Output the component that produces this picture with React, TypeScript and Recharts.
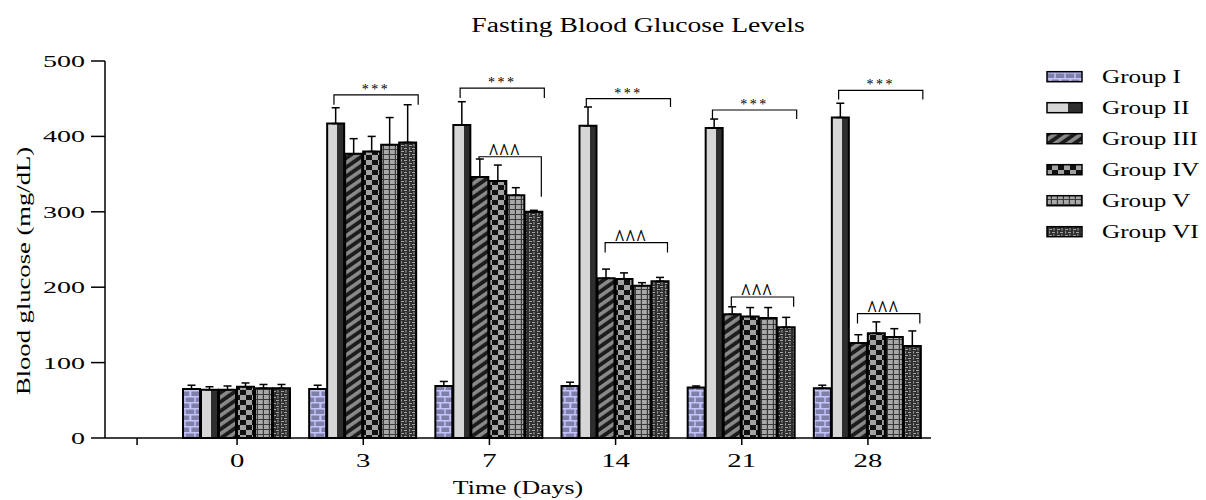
import { BarChart, Bar, XAxis, YAxis, ErrorBar, LabelList, Legend, Customized } from 'recharts'

// categories / series (mg/dL)
const days = ['0', '3', '7', '14', '21', '28']
const groupNames = ['Group I', 'Group II', 'Group III', 'Group IV', 'Group V', 'Group VI']
const yTicks = [0, 100, 200, 300, 400, 500]

const g1 = [65, 65, 69, 69, 67, 66]
const g2 = [64, 417, 415, 414, 411, 425]
const g3 = [64, 377, 346, 212, 164, 126]
const g4 = [68, 380, 341, 211, 161, 139]
const g5 = [66, 389, 322, 202, 159, 134]
const g6 = [66, 392, 300, 208, 147, 122]

// SEM (upper whisker only)
const e1 = [5, 5, 6, 5, 2, 4]
const e2 = [4, 21, 31, 25, 12, 19]
const e3 = [5, 20, 24, 12, 10, 11]
const e4 = [5, 20, 21, 8, 12, 15]
const e5 = [5, 36, 10, 4, 14, 11]
const e6 = [5, 50, 2, 5, 13, 20]

// significance brackets, in mg/dL
const starTop = [null, 455, 464, 450, 435, 461]
const starLeg = [null, 442, 451, 439, 423, 449]
const caretTop = [null, null, 373, 259, 187, 165]
const caretLeftLeg = [null, null, 370, 246, 174, 152]
const caretRightLeg = [null, null, 320, 246, 174, 152]

const series = [g1, g2, g3, g4, g5, g6]
const errors = [e1, e2, e3, e4, e5, e6]
const keys = ['g1', 'g2', 'g3', 'g4', 'g5', 'g6']
const fills = ['url(#pI)', 'url(#gII)', 'url(#pIII)', 'url(#pIV)', 'url(#pV)', 'url(#pVI)']

const rows = days.map((day, i) => {
  const r: any = { day }
  keys.forEach((k, j) => {
    r[k] = series[j][i]
    r['e' + (j + 1)] = [0, errors[j][i]]
  })
  return r
})

const SERIF = '"Liberation Serif", "Times New Roman", serif'
const BAR_GAP = 1

function SText({ x, y, size, sx = 1, anchor = 'start', rotate = 0, dy, weight, children }: any) {
  return (
    <text
      transform={`translate(${x},${y}) rotate(${rotate}) scale(${sx},1)`}
      fontSize={size}
      fontFamily={SERIF}
      fontWeight={weight}
      textAnchor={anchor}
      dy={dy}
      fill="#000"
    >
      {children}
    </text>
  )
}

function Patterns() {
  return (
    <svg width={0} height={0} style={{ position: 'absolute' }}>
      <defs>
        <pattern id="pI" width={10} height={12} patternUnits="userSpaceOnUse">
          <rect width={10} height={12} fill="#7f7fa8" />
          <path d="M0 0.7H10M0 6.7H10M5 0.7V6.7M0.7 6.7V12M10 6.7V12" stroke="#c4c4ff" strokeWidth={1.4} />
        </pattern>
        <linearGradient id="gII" x1="0" y1="0" x2="1" y2="0">
          <stop offset="0" stopColor="#d6d6d6" />
          <stop offset="0.6" stopColor="#d6d6d6" />
          <stop offset="0.6" stopColor="#2e2e2e" />
          <stop offset="1" stopColor="#2e2e2e" />
        </linearGradient>
        <pattern id="pIII" width={8} height={7.5} patternUnits="userSpaceOnUse" patternTransform="rotate(-35)">
          <rect width={8} height={7.5} fill="#1c1c1c" />
          <rect width={8} height={3.6} fill="#8a8a8a" />
        </pattern>
        <pattern id="pIV" width={12} height={10} patternUnits="userSpaceOnUse">
          <rect width={12} height={10} fill="#a2a2a2" />
          <rect width={6} height={5} fill="#111" />
          <rect x={6} y={5} width={6} height={5} fill="#111" />
        </pattern>
        <pattern id="pV" width={6} height={5} patternUnits="userSpaceOnUse">
          <rect width={6} height={5} fill="#a8a8a8" />
          <rect x={4.8} width={1.2} height={5} fill="#3a3a3a" />
          <rect y={4} width={6} height={1} fill="#3a3a3a" />
        </pattern>
        <pattern id="pVI" width={8} height={6} patternUnits="userSpaceOnUse">
          <rect width={8} height={6} fill="#2e2e2e" />
          <rect x={1} y={1} width={3} height={0.9} fill="#b4b4b4" />
          <rect x={5.5} y={0} width={0.9} height={2.6} fill="#b4b4b4" />
          <rect x={4} y={4} width={3} height={0.9} fill="#b4b4b4" />
          <rect x={1.2} y={3.2} width={0.9} height={2.4} fill="#b4b4b4" />
        </pattern>
      </defs>
    </svg>
  )
}

function geom(props: any) {
  const vb = props.viewBox || props
  return { x: vb.x, y: vb.y, w: vb.width, h: vb.height }
}

function StarBracket(props: any) {
  const i = props.index
  const top = starTop[i]
  if (top == null) return null
  const { x, y, w, h } = geom(props)
  const ppu = h / props.value
  const base = y + h
  const yt = base - top * ppu
  const yl = base - (starLeg[i] as number) * ppu
  const x1 = x + w * 0.4
  const x2 = x + 4 * (w + BAR_GAP) + w + 2
  return (
    <g>
      <path d={`M${x1} ${yl}V${yt}H${x2}V${yl}`} fill="none" stroke="#000" strokeWidth={1.2} />
      <text x={(x1 + x2) / 2} y={yt - 1} fontSize={14} fontFamily={SERIF} textAnchor="middle" letterSpacing={2.5}>***</text>
    </g>
  )
}

function CaretBracket(props: any) {
  const i = props.index
  const top = caretTop[i]
  if (top == null) return null
  const { x, y, w, h } = geom(props)
  const ppu = h / props.value
  const base = y + h
  const yt = base - top * ppu
  const yl = base - (caretLeftLeg[i] as number) * ppu
  const yr = base - (caretRightLeg[i] as number) * ppu
  const x1 = x + w * 0.45
  const x2 = x + 3 * (w + BAR_GAP) + w - 1
  return (
    <g>
      <path d={`M${x1} ${yl}V${yt}H${x2}V${yr}`} fill="none" stroke="#000" strokeWidth={1.2} />
      <SText x={(x1 + x2) / 2 - 6} y={yt + 2} size={23} sx={0.8} weight="bold" anchor="middle">^^^</SText>
    </g>
  )
}

function XTick(p: any) {
  const { x, y, payload, index } = p
  return (
    <g>
      <SText x={x} y={y + 14} size={18} sx={1.6} anchor="middle">{payload.value}</SText>
      {index === 0 && <line x1={x - 100} x2={x - 100} y1={y - 15} y2={y - 8} stroke="#000" strokeWidth={1.5} />}
    </g>
  )
}

function YTick(p: any) {
  return <SText x={p.x} y={p.y} dy="0.35em" size={17} sx={1.65} anchor="end">{p.payload.value}</SText>
}

function LegendBox(props: any) {
  const payload = props.payload && props.payload.length ? props.payload : groupNames.map(n => ({ value: n }))
  return (
    <svg width={166} height={200}>
      {payload.map((entry: any, i: number) => {
        const idx = groupNames.indexOf(entry.value)
        const cy = 16.7 + i * 31
        return (
          <g key={entry.value}>
            <rect x={7} y={cy - 5} width={35} height={10} fill={fills[idx]} stroke="#000" strokeWidth={1.5} />
            <SText x={62} y={cy} dy="0.33em" size={18} sx={1.4}>{entry.value}</SText>
          </g>
        )
      })}
    </svg>
  )
}

function Titles() {
  return (
    <g>
      <SText x={638} y={32} size={20} sx={1.38} anchor="middle">Fasting Blood Glucose Levels</SText>
      <SText x={518} y={494} size={19} sx={1.36} anchor="middle">Time (Days)</SText>
      <SText x={30} y={271} size={19} sx={1.4} rotate={-90} anchor="middle">Blood glucose (mg/dL)</SText>
    </g>
  )
}

export default function App() {
  return (
    <div style={{ position: 'absolute', left: 0, top: 0, width: 1206, height: 500, background: '#fff' }}>
      <Patterns />
      <BarChart
        width={1206}
        height={500}
        data={rows}
        margin={{ top: 61, right: 275, bottom: 22, left: 25 }}
        barCategoryGap={9}
        barGap={BAR_GAP}
      >
        <XAxis
          dataKey="day"
          height={40}
          padding={{ left: 69, right: 0 }}
          tickSize={7}
          tickMargin={8}
          interval={0}
          axisLine={{ stroke: '#000', strokeWidth: 1.5 }}
          tickLine={{ stroke: '#000', strokeWidth: 1.5 }}
          tick={XTick}
        />
        <YAxis
          width={80}
          domain={[0, 500]}
          ticks={yTicks}
          interval={0}
          tickSize={14}
          tickMargin={6}
          axisLine={{ stroke: '#000', strokeWidth: 1.5 }}
          tickLine={{ stroke: '#000', strokeWidth: 1.5 }}
          tick={YTick}
        />
        {keys.map((k, j) => (
          <Bar key={k} dataKey={k} name={groupNames[j]} fill={fills[j]} stroke="#000" strokeWidth={2} isAnimationActive={false}>
            <ErrorBar dataKey={'e' + (j + 1)} direction="y" width={4} stroke="#000" strokeWidth={1.5} />
            {j === 1 && <LabelList dataKey={k} content={StarBracket} />}
            {j === 2 && <LabelList dataKey={k} content={CaretBracket} />}
          </Bar>
        ))}
        <Legend
          layout="horizontal"
          verticalAlign="middle"
          align="center"
          content={LegendBox}
          wrapperStyle={{ left: 1040, top: 60, width: 166, height: 200 }}
        />
        <Customized component={Titles} />
      </BarChart>
    </div>
  )
}
